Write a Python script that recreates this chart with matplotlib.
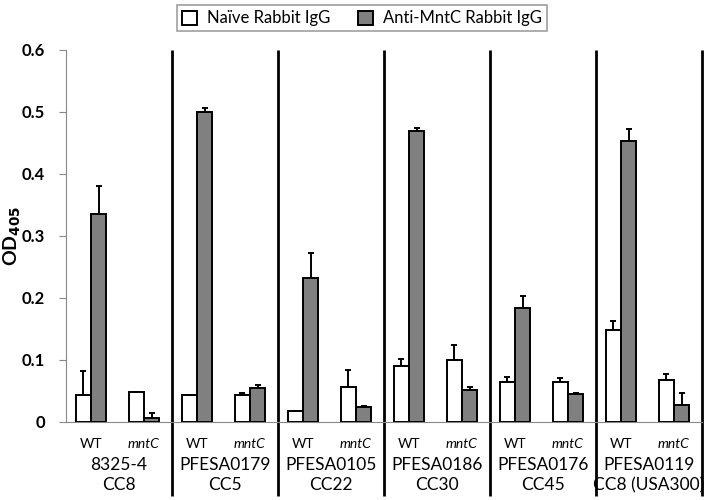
import numpy as np
import matplotlib
matplotlib.use("Agg")
import matplotlib.pyplot as plt

# strains and clonal complexes, each has a WT and a mntC mutant
strains = ["8325-4", "PFESA0179", "PFESA0105", "PFESA0186", "PFESA0176", "PFESA0119"]
complexes = ["CC8", "CC5", "CC22", "CC30", "CC45", "CC8 (USA300)"]
genotypes = ["WT", "mntC"]

# values in order WT, mntC for each strain
naive = [0.043, 0.048, 0.043, 0.043, 0.018, 0.057, 0.090, 0.100, 0.065, 0.064, 0.149, 0.068]
naive_err = [0.039, 0.0, 0.001, 0.003, 0.0, 0.027, 0.012, 0.024, 0.008, 0.007, 0.014, 0.010]
anti = [0.335, 0.006, 0.500, 0.055, 0.232, 0.024, 0.470, 0.052, 0.184, 0.045, 0.453, 0.027]
anti_err = [0.045, 0.009, 0.006, 0.005, 0.040, 0.002, 0.004, 0.005, 0.020, 0.002, 0.020, 0.020]

plt.rcParams['font.family'] = ['Lato', 'DejaVu Sans']

fig = plt.figure(figsize=(7.07, 5), dpi=100)
ax = fig.add_axes([66/707, 1-422/500, 636/707, 372/500])

x = np.arange(len(naive)) + 0.5
w = 0.29
ekw = dict(ecolor='black', elinewidth=1.4, capsize=2.5, capthick=1.4)
ax.bar(x - 0.03 - w/2, naive, w, color='white', edgecolor='black', linewidth=1.4,
       yerr=[np.zeros(len(naive)), naive_err], error_kw=ekw, label='Naïve Rabbit IgG', zorder=3)
ax.bar(x - 0.03 + w/2, anti, w, color='#808080', edgecolor='black', linewidth=1.4,
       yerr=[np.zeros(len(anti)), anti_err], error_kw=ekw, label='Anti-MntC Rabbit IgG', zorder=3)

ax.set_xlim(0, 12)
ax.set_ylim(0, 0.6)
ax.set_yticks(np.arange(0, 0.61, 0.1))
ax.set_yticklabels(["0", "0.1", "0.2", "0.3", "0.4", "0.5", "0.6"], fontweight='bold', fontsize=12)
ax.tick_params(axis='y', length=5, color='#888888', pad=10)
ax.set_xticks([])
for s in ['top', 'right']:
    ax.spines[s].set_visible(False)
ax.spines['left'].set_color('#888888')
ax.spines['bottom'].set_color('#888888')

# group separators
ax.vlines(np.arange(2, 13, 2), -0.119, 0.6, color='black', linewidth=2, clip_on=False)

# category labels
for i, xi in enumerate(x):
    g = genotypes[i % 2]
    ax.text(xi - 0.03, -0.035, g, ha='center', va='center', fontsize=10,
            style='italic' if g == 'mntC' else 'normal')
for j in range(len(strains)):
    ax.text(2*j + 1, -0.069, strains[j], ha='center', va='center', fontsize=12.5)
    ax.text(2*j + 1, -0.102, complexes[j], ha='center', va='center', fontsize=12.5)

ax.text(-0.085, 0.5, "OD$_{\\mathbf{405}}$", transform=ax.transAxes, rotation=90,
        ha='center', va='center', fontweight='bold', fontsize=14)

leg = fig.legend(loc='upper center', bbox_to_anchor=(0.512, 0.996), ncol=2,
                 fontsize=12, fancybox=False, edgecolor='#888888',
                 handlelength=0.9, handleheight=0.9, columnspacing=1.6,
                 borderpad=0.3, handletextpad=0.6, borderaxespad=0.2)
leg.get_frame().set_linewidth(1.2)

fig.savefig("out.png", dpi=100)
